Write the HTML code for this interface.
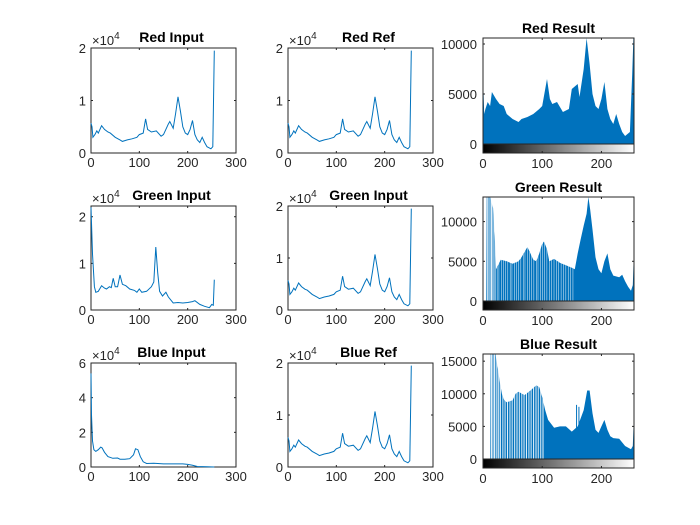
<!DOCTYPE html>
<html><head><meta charset="utf-8"><style>
html,body{margin:0;padding:0;background:#fff;}
svg{display:block;font-family:"Liberation Sans",Arial,sans-serif;}
</style></head><body>
<svg id="fig" width="700" height="525" viewBox="0 0 700 525">
<defs><linearGradient id="gray" x1="0" x2="1" y1="0" y2="0"><stop offset="0" stop-color="#000"/><stop offset="1" stop-color="#fff"/></linearGradient></defs>
</svg>
<script>
// ---- data (bin index / count in 1e4) ----
const redBins   = [0,2,4,8,12,15,22,28,35,40,50,60,65,75,85,95,100,108,113,117,125,135,145,150,160,163,170,175,180,185,190,195,200,205,210,215,220,225,230,235,240,248,252,255];
const redVals   = [0.57,0.5,0.3,0.35,0.42,0.38,0.52,0.45,0.4,0.38,0.3,0.25,0.22,0.25,0.27,0.3,0.35,0.38,0.65,0.45,0.4,0.42,0.32,0.35,0.55,0.6,0.47,0.75,1.07,0.8,0.5,0.38,0.35,0.45,0.62,0.35,0.25,0.2,0.3,0.2,0.12,0.08,0.12,1.95];
const greenBins = [0,3,7,10,15,22,28,32,38,42,46,50,55,60,65,72,80,90,95,100,105,115,125,130,134,138,142,148,155,160,170,180,190,200,210,215,225,235,245,250,253,255];
const greenVals = [2.2,1.2,0.5,0.38,0.4,0.52,0.47,0.45,0.5,0.48,0.68,0.5,0.5,0.75,0.55,0.52,0.45,0.42,0.38,0.45,0.38,0.4,0.5,0.6,1.35,0.8,0.4,0.3,0.38,0.28,0.15,0.16,0.15,0.16,0.18,0.2,0.12,0.08,0.05,0.12,0.1,0.65];
const blueBins  = [0,1,3,6,10,15,20,23,28,35,45,55,60,70,80,88,92,97,102,108,115,130,150,170,190,200,210,220,240,255];
const blueVals  = [5.4,3,1.5,1.0,0.9,1.0,1.15,1.1,0.85,0.6,0.5,0.52,0.45,0.45,0.48,0.7,1.05,1.0,0.6,0.3,0.2,0.22,0.18,0.18,0.18,0.15,0.1,0.03,0.01,0.0];
// result histograms (counts)
const redResBins = [0,1,2,4,8,12,15,22,28,35,40,50,60,65,75,85,95,100,108,113,117,125,135,145,150,160,163,170,175,180,185,190,195,200,205,210,215,220,225,230,235,240,248,252,254,255];
const redResVals = [5700,5000,3000,3500,4200,3800,5200,4500,4000,3800,3000,2500,2200,2500,2700,3000,3500,3800,6500,4500,4000,4200,3200,3500,5500,6000,4700,7500,10600,8000,5000,3800,3500,4500,6200,3500,2500,2000,3000,2000,1200,800,1200,7000,10600,10600];
const greenResBins = [0,5,6,10,12,17,20,22,30,40,50,60,65,75,80,85,90,95,100,103,108,112,120,130,140,150,155,160,165,170,175,178,181,185,190,195,200,205,210,215,220,230,235,240,245,250,253,255];
const greenResVals = [0,0,13100,13100,13100,11700,8200,4000,5200,5000,4700,5000,5500,6800,6000,5200,5000,6000,7200,7500,6500,5000,5300,4800,4500,4200,4000,6000,7800,9500,11000,13100,11500,9000,5500,4000,3500,5000,6000,4000,3200,3000,3300,2500,1800,1300,2000,6500];
const greenEmpty = [0,1,2,3,4,5,7,8,9,11,13,14,15,16,18,19,21,24,27,31,35,38,42,46,49,53,57,60,64,68,71,75,79,82,86,90,93,97,101,104,108,112,116,120,124,128,132,136,140,144,148,152];
const blueResBins = [0,12,13,21,25,28,32,36,40,50,55,60,70,80,90,95,100,105,110,120,130,140,150,160,170,176,180,185,190,195,200,205,210,215,220,230,240,250,253,255];
const blueResVals = [0,0,16100,16100,14000,12000,10000,9000,8700,9000,10000,10300,9800,10500,11300,11000,9500,7500,6000,4800,5000,5000,4200,5000,7500,10500,10500,7000,4500,4000,5000,6000,4500,3500,3200,3100,2000,1500,2000,7000];
const blueEmpty = [0,1,2,3,4,5,6,7,8,9,10,11,12,14,15,16,18,19,20,22,23,24,26,27,29,30,33,34,37,38,41,42,45,46,49,50,53,54,57,58,61,62,65,66,69,70,73,74,77,78,81,82,85,86,89,90,93,94,97,98,101,102];
const blueSpikeBins = [158,162];
const blueSpikeVals = [8300,8000];
const lineXTicks = [0,100,200,300];
const histXTicks = [0,100,200];

const NS="http://www.w3.org/2000/svg";
const fig=document.getElementById('fig');
function mk(tag,attrs,parent){const e=document.createElementNS(NS,tag);for(const k in attrs)e.setAttribute(k,attrs[k]);(parent||fig).appendChild(e);return e;}
const AX="#262626";

function linePlot(name,title,L,R,T,B,ymax,yTicks,bins,vals){
  const g=mk('g',{});
  
  
  const sx=v=>L+(v/300)*(R-L), sy=v=>B-(v/ymax)*(B-T);
  const bg=mk('rect',{x:L,y:T,width:R-L,height:B-T,fill:'#fff',stroke:AX,'stroke-width':1},g);
  
  
  lineXTicks.forEach(t=>{const x=sx(t);
    mk('line',{x1:x,x2:x,y1:B,y2:B-2,stroke:AX},g);mk('line',{x1:x,x2:x,y1:T,y2:T+2,stroke:AX},g);
    const tx=mk('text',{x:x,y:B+14,'text-anchor':'middle','font-size':13,fill:AX},g);tx.textContent=t;
    
    });
  yTicks.forEach(t=>{const y=sy(t);
    mk('line',{x1:L,x2:L+2,y1:y,y2:y,stroke:AX},g);mk('line',{x1:R,x2:R-2,y1:y,y2:y,stroke:AX},g);
    const tx=mk('text',{x:L-5,y:y+5,'text-anchor':'end','font-size':13,fill:AX},g);tx.textContent=t;
    
    });
  const pts=bins.map((b,i)=>sx(b).toFixed(1)+','+sy(vals[i]).toFixed(1)).join(' ');
  const pl=mk('polyline',{points:pts,fill:'none',stroke:'#0072BD','stroke-width':1},g);
  
  
  const ex=mk('text',{x:L+1,y:T-3,'font-size':13,fill:AX},g);
  ex.innerHTML='×10<tspan dy="-6" font-size="10">4</tspan>';
  
  
  const ti=mk('text',{x:(L+R)/2+8,y:T-6,'text-anchor':'middle','font-size':14,'font-weight':'bold',fill:'#000'},g);
  ti.textContent=title;
  
  
}

function histPlot(name,title,L,R,T,B,ymax,yTicks,bins,vals,empty,sb,sv){
  const g=mk('g',{});
  
  
  const sx=v=>L+(v/255)*(R-L), sy=v=>B-(Math.min(v,ymax)/ymax)*(B-T);
  mk('rect',{x:L,y:T,width:R-L,height:B-T,fill:'#fff'},g);
  let d='M'+sx(bins[0])+','+B;
  bins.forEach((b,i)=>{d+=' L'+sx(b).toFixed(1)+','+sy(vals[i]).toFixed(1);});
  d+=' L'+sx(bins[bins.length-1])+','+B+' Z';
  const ar=mk('path',{d:d,fill:'#0072BD',stroke:'none'},g);
  
  
  const bw=(R-L)/255;
  (empty||[]).forEach(b=>{const r=mk('rect',{x:sx(b)-bw*0.5,y:T,width:bw*0.8,height:B-T,fill:'#fff'},g);
    
    });
  (sb||[]).forEach((b,i)=>{const l=mk('line',{x1:sx(b),x2:sx(b),y1:B,y2:sy(sv[i]),stroke:'#0072BD','stroke-width':1},g);
    
    });
  mk('rect',{x:L,y:T,width:R-L,height:B-T,fill:'none',stroke:AX},g);
  yTicks.forEach(t=>{const y=sy(t);
    mk('line',{x1:L,x2:L+2,y1:y,y2:y,stroke:AX},g);mk('line',{x1:R,x2:R-2,y1:y,y2:y,stroke:AX},g);
    const tx=mk('text',{x:L-6,y:y+5,'text-anchor':'end','font-size':13,fill:AX},g);tx.textContent=t;
    
    });
  const cb=mk('rect',{x:L,y:B,width:R-L,height:9,fill:'url(#gray)',stroke:AX},g);
  
  
  histXTicks.forEach(t=>{const x=sx(t);
    mk('line',{x1:x,x2:x,y1:B+9,y2:B+7,stroke:AX},g);mk('line',{x1:x,x2:x,y1:T,y2:T+2,stroke:AX},g);
    const tx=mk('text',{x:x,y:B+24,'text-anchor':'middle','font-size':13,fill:AX},g);tx.textContent=t;
    
    });
  const ti=mk('text',{x:(L+R)/2,y:T-5,'text-anchor':'middle','font-size':14,'font-weight':'bold',fill:'#000'},g);
  ti.textContent=title;
  
  
}

linePlot('red-input-plot','Red Input',91,236,48,153,2,[0,1,2],redBins,redVals);
linePlot('red-ref-plot','Red Ref',288,433,48,153,2,[0,1,2],redBins,redVals);
histPlot('red-result-plot','Red Result',483,634,38,144,10600,[0,5000,10000],redResBins,redResVals,[],[],[]);
linePlot('green-input-plot','Green Input',91,236,206,310,2.23,[0,1,2],greenBins,greenVals);
linePlot('green-ref-plot','Green Input',288,433,206,310,2,[0,1,2],redBins,redVals);
histPlot('green-result-plot','Green Result',483,634,197,301,13100,[0,5000,10000],greenResBins,greenResVals,greenEmpty,[],[]);
linePlot('blue-input-plot','Blue Input',91,236,363,467,6,[0,2,4,6],blueBins,blueVals);
linePlot('blue-ref-plot','Blue Ref',288,433,363,467,2,[0,1,2],redBins,redVals);
histPlot('blue-result-plot','Blue Result',483,634,354,459,16100,[0,5000,10000,15000],blueResBins,blueResVals,blueEmpty,blueSpikeBins,blueSpikeVals);
</script>
</body></html>
